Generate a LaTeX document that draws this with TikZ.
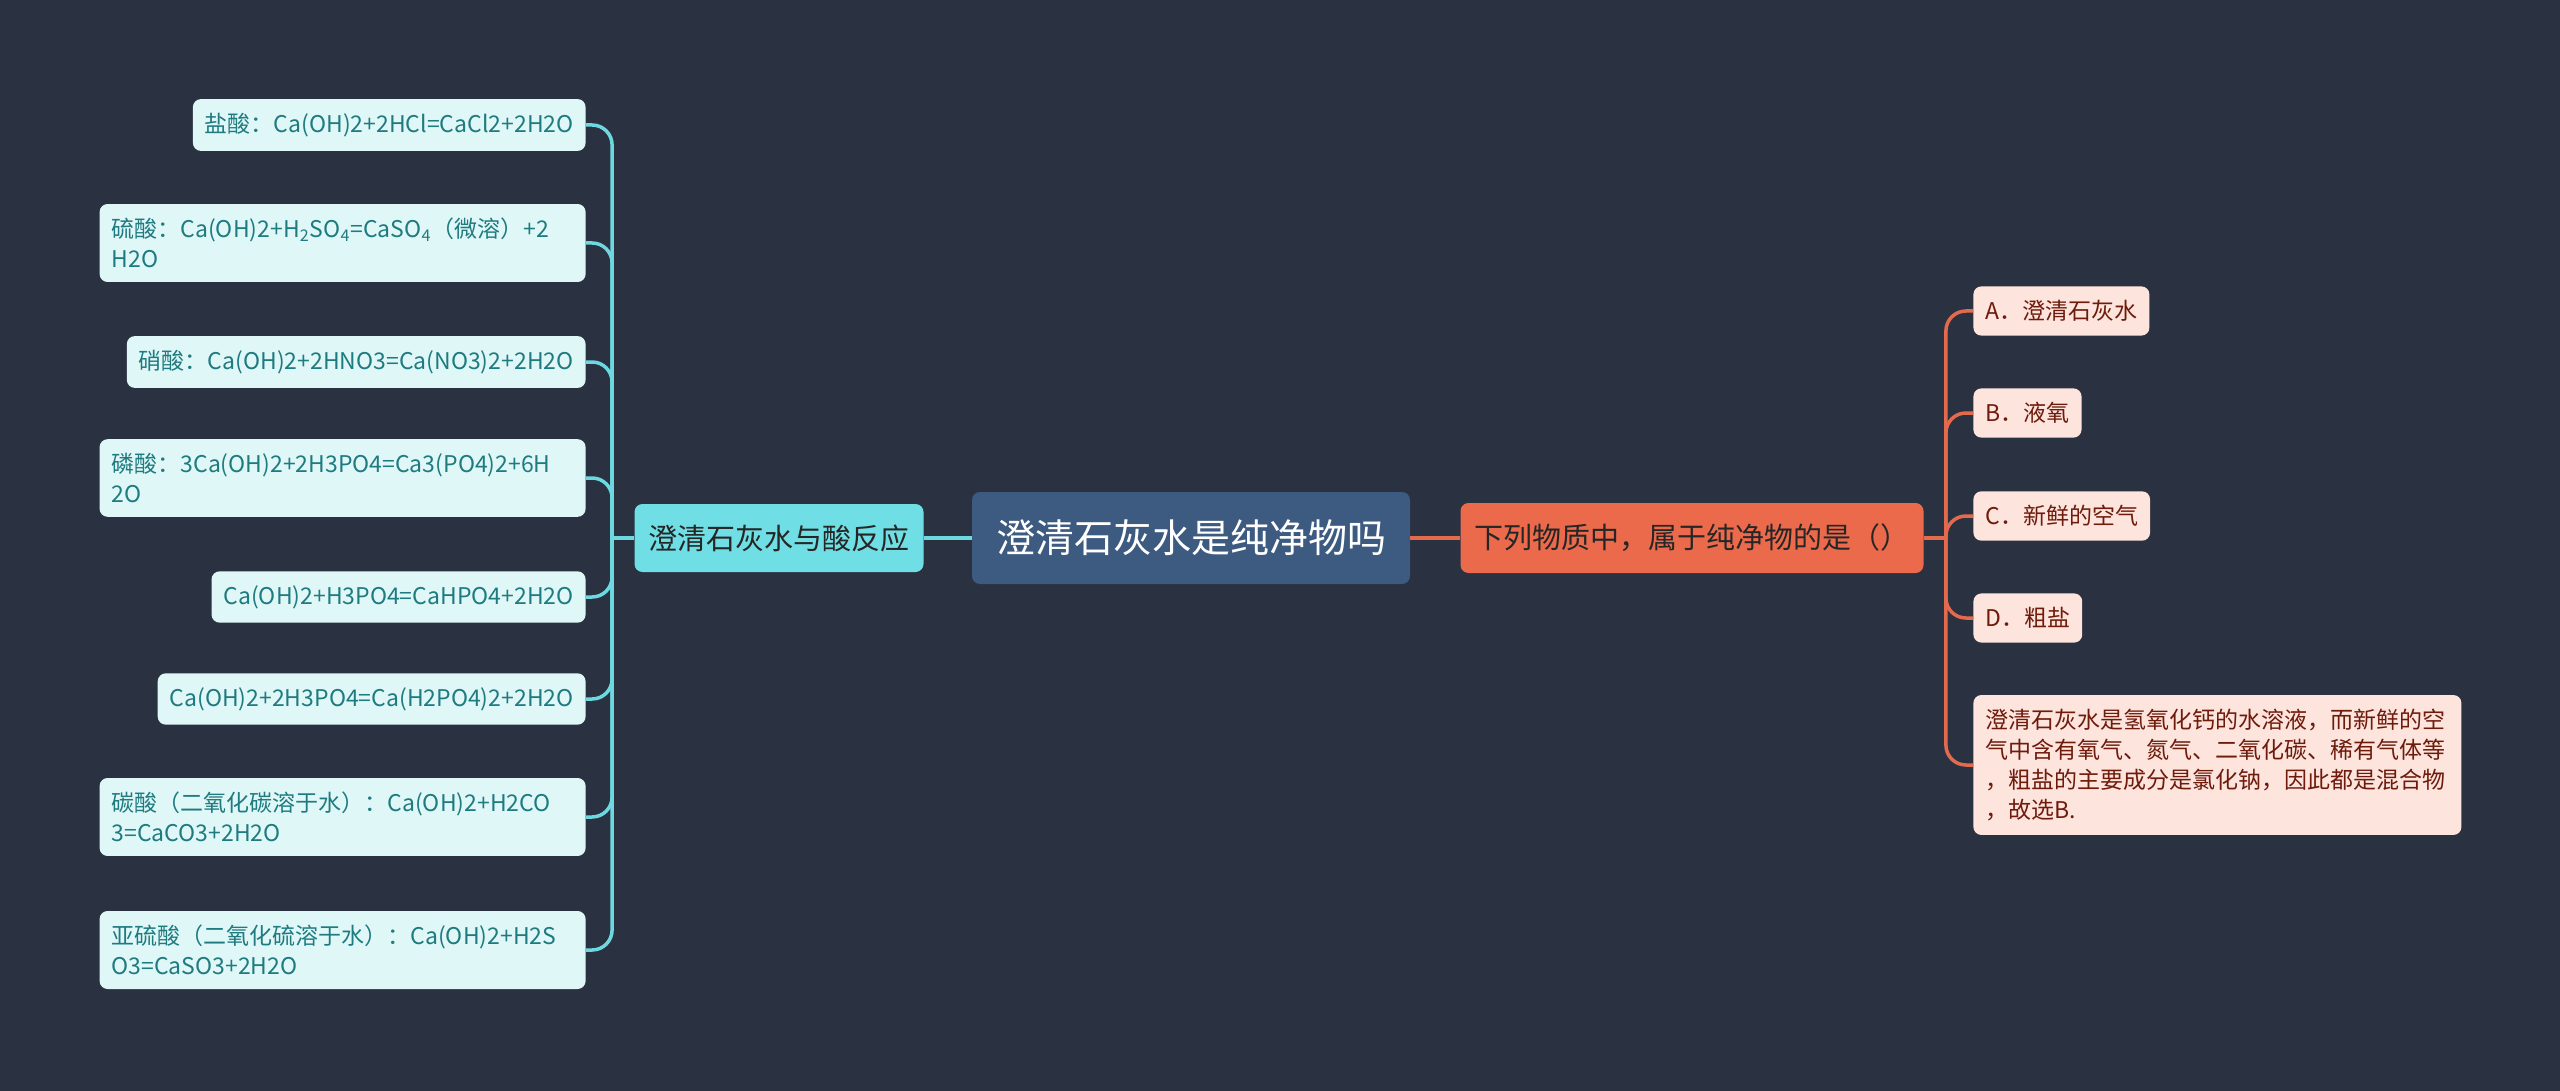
\documentclass[tikz,border=0pt]{standalone}
\usepackage{fontspec}
\setmainfont{Noto Sans CJK SC}
\definecolor{bgcol}{HTML}{2A3140}
\definecolor{rootfill}{HTML}{3D5A80}
\definecolor{acidfill}{HTML}{70DFE5}
\definecolor{quizfill}{HTML}{EC6A4C}
\definecolor{leftfill}{HTML}{E0F7F7}
\definecolor{lefttext}{HTML}{1E7B80}
\definecolor{rightfill}{HTML}{FDE4DD}
\definecolor{righttext}{HTML}{6E1B0C}
\definecolor{cyanwire}{HTML}{6ED8E0}
\definecolor{orangewire}{HTML}{E46A4E}
\tikzset{
  rootbox/.style={fill=rootfill, text=white, rounded corners=4pt, minimum width=219pt, minimum height=46pt, font=\fontsize{19.5}{23}\selectfont},
  acidbox/.style={fill=acidfill, text=black!85, rounded corners=4pt, inner xsep=7pt, minimum height=34pt, font=\fontsize{14.5}{18}\selectfont},
  quizbox/.style={fill=quizfill, text=black!85, rounded corners=4pt, inner xsep=7pt, minimum height=35pt, font=\fontsize{14.5}{18}\selectfont},
  acidleaf/.style={anchor=east, fill=leftfill, text=lefttext, rounded corners=4pt, inner xsep=6pt, inner ysep=7pt, align=left, font=\fontsize{11.5}{15}\selectfont},
  optbox/.style={anchor=west, fill=rightfill, text=righttext, rounded corners=4pt, inner xsep=6pt, inner ysep=7pt, align=left, font=\fontsize{11.5}{15}\selectfont},
  cyanline/.style={draw=cyanwire, line width=1.75pt},
  orangeline/.style={draw=orangewire, line width=1.75pt}
}
\begin{document}
\begin{tikzpicture}[x=0.5pt,y=-0.5pt]
%%%%% START %%%%%

\fill[bgcol] (0,0) rectangle (2560,1091);
\useasboundingbox (0,0) rectangle (2560,1091);

\node[rootbox] (root) at (1191,538) {澄清石灰水是纯净物吗};
\node[acidbox] (acid) at (779,538) {澄清石灰水与酸反应};
\node[quizbox] (quiz) at (1692,538) {下列物质中，属于纯净物的是（）};

% left side
\node[acidleaf] (hcl) at (586,125) {盐酸：Ca(OH)2+2HCl=CaCl2+2H2O};
\node[acidleaf, text width=231pt] (h2so4) at (586,243) {硫酸：Ca(OH)2+H\textsubscript{2}SO\textsubscript{4}=CaSO\textsubscript{4}（微溶）+2\\H2O};
\node[acidleaf] (hno3) at (586,362) {硝酸：Ca(OH)2+2HNO3=Ca(NO3)2+2H2O};
\node[acidleaf, text width=231pt] (h3po4) at (586,478) {磷酸：3Ca(OH)2+2H3PO4=Ca3(PO4)2+6H\\2O};
\node[acidleaf] (hpo4) at (586,597) {Ca(OH)2+H3PO4=CaHPO4+2H2O};
\node[acidleaf] (h2po4) at (586,699) {Ca(OH)2+2H3PO4=Ca(H2PO4)2+2H2O};
\node[acidleaf, text width=231pt] (h2co3) at (586,817) {碳酸（二氧化碳溶于水）：Ca(OH)2+H2CO\\3=CaCO3+2H2O};
\node[acidleaf, text width=231pt] (h2so3) at (586,950) {亚硫酸（二氧化硫溶于水）：Ca(OH)2+H2S\\O3=CaSO3+2H2O};

% right side
\node[optbox] (optA) at (1973,311) {A．澄清石灰水};
\node[optbox] (optB) at (1973,413) {B．液氧};
\node[optbox] (optC) at (1973,516) {C．新鲜的空气};
\node[optbox] (optD) at (1973,618) {D．粗盐};
\node[optbox, text width=232pt] (why) at (1973,765) {澄清石灰水是氢氧化钙的水溶液，而新鲜的空\\气中含有氧气、氮气、二氧化碳、稀有气体等\\，粗盐的主要成分是氯化钠，因此都是混合物\\，故选B.};

\coordinate (lhub) at ([xshift=-11pt]acid.west);
\coordinate (rhub) at ([xshift=11pt]quiz.east);

\draw[cyanline] (root.west) -- (acid.east);
\draw[cyanline] (acid.west) -- (lhub);
\draw[cyanline, rounded corners=10pt] (hcl.east) -| (lhub);
\draw[cyanline, rounded corners=10pt] (h2so4.east) -| (lhub);
\draw[cyanline, rounded corners=10pt] (hno3.east) -| (lhub);
\draw[cyanline, rounded corners=10pt] (h3po4.east) -| (lhub);
\draw[cyanline, rounded corners=10pt] (hpo4.east) -| (lhub);
\draw[cyanline, rounded corners=10pt] (h2po4.east) -| (lhub);
\draw[cyanline, rounded corners=10pt] (h2co3.east) -| (lhub);
\draw[cyanline, rounded corners=10pt] (h2so3.east) -| (lhub);

\draw[orangeline] (root.east) -- (quiz.west);
\draw[orangeline] (quiz.east) -- (rhub);
\draw[orangeline, rounded corners=10pt] (rhub) |- (optA.west);
\draw[orangeline, rounded corners=10pt] (rhub) |- (optB.west);
\draw[orangeline, rounded corners=10pt] (rhub) |- (optC.west);
\draw[orangeline, rounded corners=10pt] (rhub) |- (optD.west);
\draw[orangeline, rounded corners=10pt] (rhub) |- (why.west);

%%%%% END %%%%%
\end{tikzpicture}
\end{document}
